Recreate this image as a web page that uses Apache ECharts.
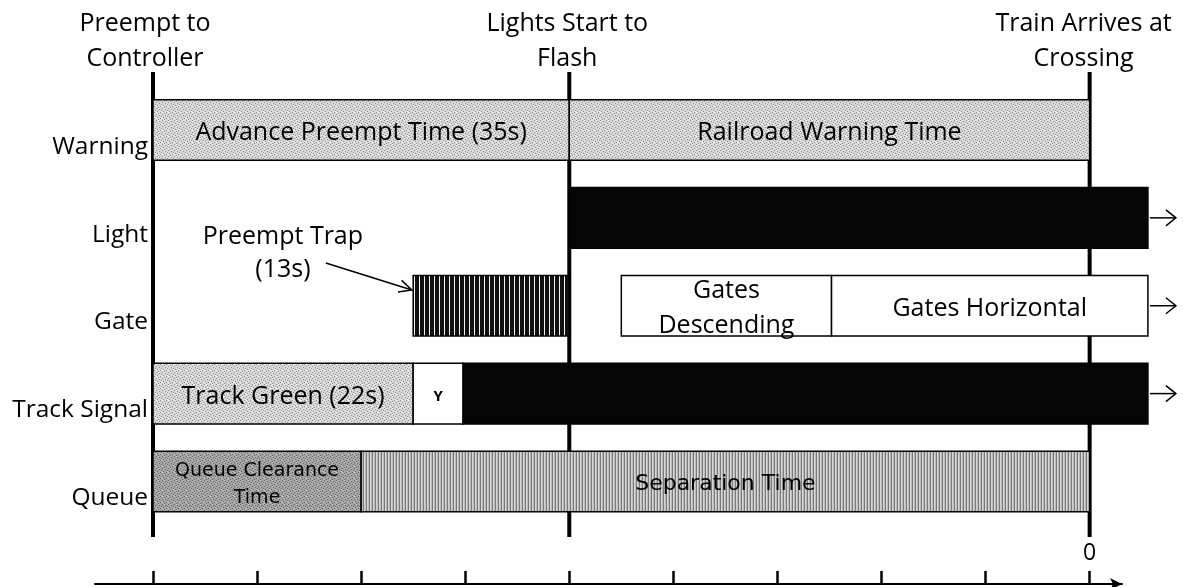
<!DOCTYPE html>
<html>
<head>
<meta charset="utf-8">
<script src="https://cdn.jsdelivr.net/npm/echarts@6/dist/echarts.min.js"></script>
<style>
html, body { margin: 0; padding: 0; background: #fff; }
#chart { width: 1183px; height: 587px; }
</style>
</head>
<body>
<div id="chart"></div>
<script>
// rows, top to bottom
const rows = ['Warning', 'Light', 'Gate', 'Track Signal', 'Queue'];

// time axis in tick steps before the train arrives (0)
const ticks = [-9, -8, -7, -6, -5, -4, -3, -2, -1, 0];
const tickLabels = [0];

// events marked by the thick vertical lines
const eventNames = ['Preempt to\nController', 'Lights Start to\nFlash', 'Train Arrives at\nCrossing'];
const eventTimes = [-9, -5, 0];

// segments: row, start, end, text, fill, continues past the crossing
const segRows   = ['Warning', 'Warning', 'Light', 'Gate', 'Gate', 'Gate', 'Track Signal', 'Track Signal', 'Track Signal', 'Queue', 'Queue'];
const segStart  = [-9, -5, -5, -6.5, -4.5, -2.48, -9, -6.5, -6.02, -9, -7];
const segEnd    = [-5, 0, 0.56, -5, -2.48, 0.56, -6.5, -6.02, 0.56, -7, 0];
const segText   = ['Advance Preempt Time (35s)', 'Railroad Warning Time', '', '', 'Gates\nDescending', 'Gates Horizontal',
                   'Track Green (22s)', 'Y', '', 'Queue Clearance\nTime', 'Separation Time'];
const segFill   = ['stipple', 'stipple', 'black', 'trap', 'white', 'white', 'stipple', 'white', 'black', 'dark', 'stripes'];
const segArrow  = [false, false, true, false, false, true, false, false, true, false, false];

const trapNote = 'Preempt Trap\n(13s)';

// layout
const PX = 104.07;          // pixels per tick step
const Y_MIN = -0.632, Y_MAX = 4.66;
const BAR_H = 0.69;
const LABEL_DROP = 0.19;    // row names sit a bit below the bar centre

function rowValue(name) {
  return rows.length - 1 - rows.indexOf(name);
}

// small fill textures
function pattern(w, h, draw) {
  const c = document.createElement('canvas');
  c.width = w; c.height = h;
  draw(c.getContext('2d'));
  return { image: c, repeat: 'repeat' };
}
function dots(base, dark, light) {
  return pattern(6, 6, function (ctx) {
    ctx.fillStyle = base; ctx.fillRect(0, 0, 6, 6);
    ctx.fillStyle = dark;
    [[0, 0], [3, 1], [1, 3], [4, 4], [2, 5], [5, 2]].forEach(function (p) { ctx.fillRect(p[0], p[1], 1, 1); });
    ctx.fillStyle = light;
    [[2, 0], [5, 3], [0, 4]].forEach(function (p) { ctx.fillRect(p[0], p[1], 1, 1); });
  });
}
const fills = {
  stipple: dots('#d8d8d8', '#8a8a8a', '#ffffff'),
  dark: dots('#a4a4a4', '#606060', '#cccccc'),
  stripes: pattern(3, 4, function (ctx) {
    ctx.fillStyle = '#7a7a7a'; ctx.fillRect(0, 0, 1, 4);
    ctx.fillStyle = '#d6d6d6'; ctx.fillRect(1, 0, 1, 4);
    ctx.fillStyle = '#bababa'; ctx.fillRect(2, 0, 1, 4);
  }),
  trap: pattern(5, 4, function (ctx) {
    ctx.fillStyle = '#111'; ctx.fillRect(0, 0, 5, 4);
    ctx.fillStyle = '#f4f4f4'; ctx.fillRect(4, 0, 1, 4);
  }),
  black: '#050505',
  white: '#ffffff'
};

const bigFont = { fontFamily: 'Open Sans', fontSize: 25 };
const labelFont = {
  'Y': { fontFamily: 'Open Sans', fontSize: 15, fontWeight: 'bold' },
  'Gates\nDescending': { fontFamily: 'Open Sans', fontSize: 25, lineHeight: 35 },
  'Queue Clearance\nTime': { fontFamily: 'DejaVu Sans', fontSize: 19, lineHeight: 27 },
  'Separation Time': { fontFamily: 'DejaVu Sans', fontSize: 22 }
};

function renderSegment(params, api) {
  const i = params.dataIndex;
  const r = api.value(2);
  const a = api.coord([api.value(0), r]);
  const b = api.coord([api.value(1), r]);
  const h = api.size([0, BAR_H])[1];
  const kids = [{
    type: 'rect',
    shape: { x: a[0], y: a[1] - h / 2, width: b[0] - a[0], height: h },
    style: { fill: fills[segFill[i]], stroke: '#000', lineWidth: 1.5 }
  }];
  if (segText[i]) {
    kids.push({
      type: 'text',
      x: (a[0] + b[0]) / 2,
      y: a[1] + 3,
      style: Object.assign({ text: segText[i], fill: '#000', align: 'center', verticalAlign: 'middle' },
        labelFont[segText[i]] || bigFont)
    });
  }
  if (segArrow[i]) {
    const x0 = b[0] + 2, x1 = b[0] + 28, y = a[1];
    kids.push({ type: 'line', shape: { x1: x0, y1: y, x2: x1, y2: y }, style: { stroke: '#000', lineWidth: 1.5 } });
    kids.push({ type: 'polyline', shape: { points: [[x1 - 10, y - 8], [x1, y], [x1 - 10, y + 8]] },
      style: { stroke: '#000', lineWidth: 1.5, fill: null } });
  }
  return { type: 'group', children: kids };
}

const titleNudge = [-8, -2, -6];
function renderEvent(params, api) {
  const cs = params.coordSys;
  const x = api.coord([api.value(0), 0])[0];
  return {
    type: 'group',
    children: [{
      type: 'line',
      shape: { x1: x, y1: cs.y, x2: x, y2: cs.y + cs.height },
      style: { stroke: '#000', lineWidth: 4 }
    }, {
      type: 'text',
      x: x + titleNudge[params.dataIndex],
      y: cs.y + 4,
      style: Object.assign({ text: eventNames[params.dataIndex], fill: '#000', align: 'center',
        verticalAlign: 'bottom', lineHeight: 35 }, bigFont)
    }]
  };
}

function renderNote(params, api) {
  const t = api.coord([-7.752, 2.6]);
  const p0 = api.coord([-7.339, 2.487]);
  const p1 = api.coord([-6.513, 2.18]);
  const ang = Math.atan2(p1[1] - p0[1], p1[0] - p0[0]);
  const hl = 14, hw = 0.45;
  return {
    type: 'group',
    children: [{
      type: 'text', x: t[0], y: t[1],
      style: Object.assign({ text: trapNote, fill: '#000', align: 'center', verticalAlign: 'middle', lineHeight: 33 }, bigFont)
    }, {
      type: 'line', shape: { x1: p0[0], y1: p0[1], x2: p1[0], y2: p1[1] },
      style: { stroke: '#000', lineWidth: 1.5 }
    }, {
      type: 'polyline',
      shape: { points: [
        [p1[0] - hl * Math.cos(ang - hw), p1[1] - hl * Math.sin(ang - hw)],
        [p1[0], p1[1]],
        [p1[0] - hl * Math.cos(ang + hw), p1[1] - hl * Math.sin(ang + hw)]
      ] },
      style: { stroke: '#000', lineWidth: 1.5, fill: null }
    }]
  };
}

const chart = echarts.init(document.getElementById('chart'));
const axisMin = -9 - (153 - 95) / PX;

const option = {
  animation: false,
  backgroundColor: '#fff',
  grid: [
    { left: 153, top: 72, width: 1022, height: 465 },
    { left: 95, top: 520, width: 1027, height: 64 }
  ],
  xAxis: [{
    gridIndex: 0, type: 'value', min: -9, max: -9 + 1022 / PX, show: false
  }, {
    gridIndex: 1, type: 'value', min: axisMin, max: axisMin + 1027 / PX,
    axisLine: { lineStyle: { color: '#000', width: 2 }, symbol: ['none', 'arrow'], symbolSize: [9, 12] },
    axisTick: { inside: true, length: 13, customValues: ticks, lineStyle: { color: '#000', width: 2.5 } },
    axisLabel: {
      inside: true, customValues: tickLabels, margin: 19, color: '#000',
      fontFamily: 'Open Sans', fontSize: 23, formatter: function (v) { return String(Math.round(v)); }
    },
    splitLine: { show: false }
  }],
  yAxis: [{
    gridIndex: 0, type: 'value', min: Y_MIN, max: Y_MAX,
    axisLine: { show: false }, axisTick: { show: false }, splitLine: { show: false },
    axisLabel: {
      customValues: rows.map(function (r) { return rowValue(r) - LABEL_DROP; }),
      formatter: function (v) { return rows[rows.length - 1 - Math.round(v + LABEL_DROP)]; },
      color: '#000', fontFamily: 'Open Sans', fontSize: 24.5, margin: 5
    }
  }, {
    gridIndex: 1, type: 'value', show: false, min: 0, max: 1
  }],
  series: [{
    type: 'custom', xAxisIndex: 0, yAxisIndex: 0, z: 2,
    renderItem: renderEvent,
    encode: { x: 0, y: 1 },
    data: eventTimes.map(function (t) { return [t, 0]; })
  }, {
    type: 'custom', xAxisIndex: 0, yAxisIndex: 0, z: 3,
    renderItem: renderSegment,
    encode: { x: [0, 1], y: 2 },
    data: segRows.map(function (r, i) { return [segStart[i], segEnd[i], rowValue(r)]; })
  }, {
    type: 'custom', xAxisIndex: 0, yAxisIndex: 0, z: 4,
    renderItem: renderNote,
    data: [[-7.5, 2.5]]
  }]
};

chart.setOption(option);
</script>
</body>
</html>
